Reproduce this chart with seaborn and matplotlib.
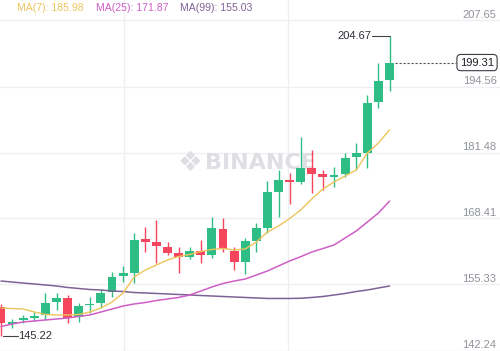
import numpy as np
import pandas as pd
import seaborn as sns
import matplotlib
matplotlib.use("Agg")
import matplotlib.pyplot as plt
import matplotlib.transforms as mtransforms

# ---------------- data ----------------
opens = [150.93, 147.50, 148.30, 148.69, 149.29, 151.86, 152.71, 148.95, 151.27, 151.72,
         153.90, 157.02, 157.67, 164.35, 163.81, 162.82, 161.63, 160.72, 162.03, 161.18,
         166.33, 161.97, 159.85, 164.01, 166.53, 173.66, 176.04, 175.70, 178.42, 177.23,
         176.69, 177.23, 180.60, 181.45, 191.56, 195.86]
closes = [147.76, 147.96, 148.69, 149.09, 151.72, 152.66, 148.63, 151.07, 151.53, 153.65,
          156.88, 157.61, 164.15, 163.81, 162.96, 161.63, 160.72, 161.97, 161.18, 166.43,
          162.37, 159.85, 164.01, 166.59, 173.66, 176.04, 175.70, 178.42, 177.23, 176.69,
          176.89, 180.40, 181.39, 191.36, 195.72, 199.31]
highs = [151.47, 148.49, 149.29, 149.88, 153.71, 153.65, 153.25, 151.66, 152.91, 154.44,
         157.87, 159.00, 165.54, 166.79, 168.11, 163.81, 162.82, 162.82, 164.15, 168.61,
         168.51, 162.82, 164.55, 167.58, 175.90, 178.02, 177.49, 184.62, 181.99, 178.02,
         178.68, 181.39, 183.43, 192.89, 199.23, 204.67]
lows = [145.22, 146.77, 147.70, 148.10, 148.30, 150.28, 147.76, 147.90, 149.68, 150.67,
        152.91, 155.89, 155.69, 161.83, 159.59, 161.18, 157.67, 160.32, 159.59, 160.58,
        161.77, 158.20, 157.41, 161.83, 165.54, 168.77, 171.28, 175.25, 173.46, 174.06,
        174.71, 176.69, 178.02, 178.42, 190.31, 193.74]
ma7 = [150.67, 150.57, 150.47, 149.88, 149.39, 149.29, 149.29, 149.39, 149.88, 150.67,
       151.86, 153.65, 156.82, 158.20, 159.20, 160.19, 160.88, 161.28, 161.87, 162.27,
       162.47, 162.17, 162.37, 163.75, 165.74, 166.92, 168.41, 170.10, 172.28, 174.26,
       175.64, 176.83, 178.02, 181.39, 183.37, 185.98]
ma25 = [147.01, 147.50, 147.90, 148.10, 148.30, 148.49, 148.69, 148.99, 149.29, 149.88,
        150.47, 151.07, 151.47, 151.76, 152.16, 152.46, 152.76, 153.25, 154.04, 154.84,
        155.53, 156.02, 156.42, 157.21, 158.01, 159.00, 159.99, 160.84, 161.77, 162.46,
        163.16, 164.55, 165.93, 167.72, 169.50, 171.87]
ma99 = [156.02, 155.82, 155.62, 155.43, 155.23, 155.03, 154.74, 154.54, 154.34, 154.24,
        154.04, 153.94, 153.74, 153.65, 153.55, 153.45, 153.35, 153.25, 153.15, 153.05,
        152.95, 152.85, 152.76, 152.66, 152.56, 152.56, 152.56, 152.60, 152.76, 152.95,
        153.25, 153.55, 153.94, 154.24, 154.64, 155.03]
y_ticks = [207.65, 194.56, 181.48, 168.41, 155.33, 142.24]
ma_labels = ["MA(7): 185.98", "MA(25): 171.87", "MA(99): 155.03"]
last_price = 199.31
max_price = 204.67
min_price = 145.22

# ---------------- style ----------------
sns.set_theme(style="white")
plt.rcParams["font.family"] = ["Liberation Sans", "DejaVu Sans"]

GREEN = "#2EBD85"
RED = "#F6465D"
C_MA7 = "#EEC45C"
C_MA25 = "#CF5FC6"
C_MA99 = "#7E6296"
GRID = "#EEEFF2"

fig = plt.figure(figsize=(5.0, 3.51), dpi=100)
ax = fig.add_axes([0, 0, 1, 1])
ax.set_xlim(-0.09, 44.95)
ax.set_ylim(142.15, 211.71)
for s in ax.spines.values():
    s.set_visible(False)

# grid
for t in y_ticks:
    ax.axhline(t, color=GRID, lw=0.9, zorder=0)
for gx in [11.08, 25.86]:
    ax.axvline(gx, color=GRID, lw=0.9, zorder=0)

# watermark
ax.text(0.381, 0.536, "\u2756", transform=ax.transAxes, fontsize=20, color="#DEDFE2",
        ha="center", va="center", family=["DejaVu Sans"], zorder=0.5)
ax.text(0.521, 0.536, "BINANCE", transform=ax.transAxes, fontsize=16, color="#DEDFE2",
        ha="center", va="center", fontweight="bold", family=["DejaVu Sans"], zorder=0.5)

# candles
df = pd.DataFrame({"i": np.arange(len(opens)), "open": opens, "close": closes,
                   "high": highs, "low": lows, "ma7": ma7, "ma25": ma25, "ma99": ma99})
colors = [GREEN if c >= o else RED for o, c in zip(df["open"], df["close"])]
ax.vlines(df["i"], df["low"], df["high"], colors=colors, lw=1.0, zorder=2)
body_lo = np.minimum(df["open"], df["close"])
body_h = np.maximum(np.abs(df["close"] - df["open"]), 0.25)
ax.bar(df["i"], body_h, bottom=body_lo, width=0.8, color=colors, zorder=3, linewidth=0)

# moving averages
sns.lineplot(data=df, x="i", y="ma99", ax=ax, color=C_MA99, lw=1.1, zorder=4)
sns.lineplot(data=df, x="i", y="ma25", ax=ax, color=C_MA25, lw=1.1, zorder=4)
sns.lineplot(data=df, x="i", y="ma7", ax=ax, color=C_MA7, lw=1.0, zorder=5)
ax.set_xlabel("")
ax.set_ylabel("")
ax.set_xticks([])
ax.set_yticks([])

# MA legend
for lab, col, xf in zip(ma_labels, [C_MA7, C_MA25, C_MA99], [0.034, 0.191, 0.360]):
    ax.text(xf, 0.977, lab, transform=ax.transAxes, fontsize=7.6, color=col,
            ha="left", va="center")

# right axis labels
trans = mtransforms.blended_transform_factory(ax.transAxes, ax.transData)
for t in y_ticks:
    ax.annotate(f"{t:.2f}", xy=(1, t), xycoords=trans, xytext=(-2.5, 4.2),
                textcoords="offset points", ha="right", va="center",
                fontsize=8, color="#8E929A")

# last price line and tag
n = len(opens) - 1
ax.plot([n + 0.45, 41.0], [last_price, last_price], ls=(0, (2, 1.6)), color="#555555",
        lw=0.8, zorder=6)
ax.text(42.88, last_price, f"{last_price:.2f}", fontsize=8, color="#1E2026",
        ha="center", va="center", zorder=7,
        bbox=dict(boxstyle="round,pad=0.28,rounding_size=0.35", fc="white",
                  ec="#3A3D44", lw=0.8))

# max / min annotations
ax.plot([33.45, n], [max_price, max_price], color="#444444", lw=0.8, zorder=6)
ax.text(33.4, max_price, f"{max_price:.2f}", fontsize=8, color="#2B2F36",
        ha="right", va="center", zorder=7)
ax.plot([0.15, 1.5], [min_price, min_price], color="#444444", lw=0.8, zorder=6)
ax.text(1.55, min_price, f"{min_price:.2f}", fontsize=8, color="#2B2F36",
        ha="left", va="center", zorder=7)

fig.savefig("out.png", dpi=100)
